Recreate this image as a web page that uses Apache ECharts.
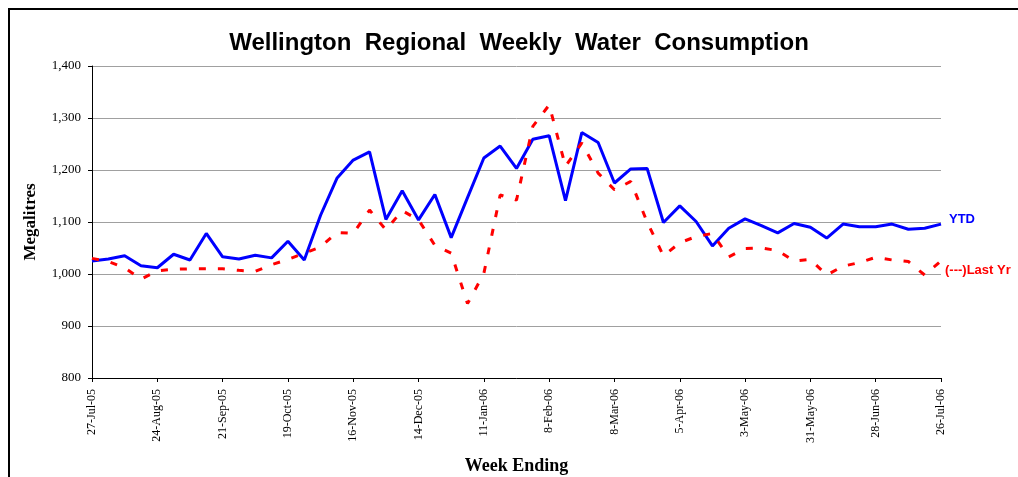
<!DOCTYPE html>
<html>
<head>
<meta charset="utf-8">
<script src="https://cdn.jsdelivr.net/npm/echarts@6/dist/echarts.min.js"></script>
<style>
html, body { margin: 0; padding: 0; background: #fff; }
#main { width: 1018px; height: 477px; }
</style>
</head>
<body>
<div id="main"></div>
<script>
var weeks = ['27-Jul-05','3-Aug-05','10-Aug-05','17-Aug-05','24-Aug-05','31-Aug-05','7-Sep-05','14-Sep-05',
	'21-Sep-05','28-Sep-05','5-Oct-05','12-Oct-05','19-Oct-05','26-Oct-05','2-Nov-05','9-Nov-05',
	'16-Nov-05','23-Nov-05','30-Nov-05','7-Dec-05','14-Dec-05','21-Dec-05','28-Dec-05','4-Jan-06',
	'11-Jan-06','18-Jan-06','25-Jan-06','1-Feb-06','8-Feb-06','15-Feb-06','22-Feb-06','1-Mar-06',
	'8-Mar-06','15-Mar-06','22-Mar-06','29-Mar-06','5-Apr-06','12-Apr-06','19-Apr-06','26-Apr-06',
	'3-May-06','10-May-06','17-May-06','24-May-06','31-May-06','7-Jun-06','14-Jun-06','21-Jun-06',
	'28-Jun-06','5-Jul-06','12-Jul-06','19-Jul-06','26-Jul-06'];

var ytd = [1025,1029,1035,1016,1012,1038,1027,1078,1033,1029,1036,1031,1063,1027,1113,1184,
	1219,1235,1105,1160,1104,1153,1070,1147,1223,1246,1203,1259,1266,1141,1272,1253,
	1175,1202,1203,1099,1131,1101,1054,1088,1106,1093,1079,1097,1090,1069,1096,1091,
	1091,1096,1086,1088,1096];

var lastYr = [1030,1024,1012,990,1006,1009,1010,1010,1010,1007,1005,1018,1028,1040,1052,1080,
	1078,1123,1085,1122,1104,1055,1040,943,1001,1152,1142,1284,1325,1207,1252,1194,
	1162,1178,1100,1035,1060,1072,1078,1033,1049,1050,1045,1025,1028,998,1015,1022,
	1032,1027,1024,998,1025];

var myChart = echarts.init(document.getElementById('main'));

var option = {
	backgroundColor: '#fff',
	animation: false,
	title: {
		// wider word gaps, like the original
		text: 'Wellington  Regional  Weekly  Water  Consumption',
		left: 514,
		top: 26,
		textAlign: 'center',
		textStyle: {
			fontFamily: 'Liberation Sans',
			fontWeight: 'bold',
			fontSize: 24,
			color: '#000'
		}
	},
	graphic: [{
		type: 'polyline',
		shape: { points: [[9, 477], [9, 9], [1018, 9]] },
		style: { stroke: '#000', lineWidth: 2, fill: null }
	}],
	grid: { left: 92, right: 77, top: 66, bottom: 99, outerBoundsMode: 'none' },
	xAxis: {
		type: 'category',
		data: weeks,
		boundaryGap: false,
		name: 'Week Ending',
		nameLocation: 'middle',
		nameGap: 79,
		nameTextStyle: {
			fontFamily: 'Liberation Serif',
			fontWeight: 'bold',
			fontSize: 18,
			color: '#000'
		},
		axisLine: { lineStyle: { color: '#000', width: 1 } },
		axisTick: { interval: 3, length: 4, lineStyle: { color: '#000' } },
		axisLabel: {
			interval: 3,
			rotate: 90,
			margin: 11,
			fontFamily: 'Liberation Serif',
			fontSize: 12,
			color: '#000'
		},
		splitLine: { show: false }
	},
	yAxis: {
		type: 'value',
		min: 800,
		max: 1400,
		interval: 100,
		name: 'Megalitres',
		nameLocation: 'middle',
		nameGap: 53,
		nameRotate: 90,
		nameTextStyle: {
			fontFamily: 'Liberation Serif',
			fontWeight: 'bold',
			fontSize: 17,
			color: '#000'
		},
		axisLine: { show: true, lineStyle: { color: '#000', width: 1 } },
		axisTick: { show: true, length: 4, lineStyle: { color: '#000' } },
		axisLabel: {
			margin: 11,
			fontFamily: 'Liberation Serif',
			fontSize: 13,
			color: '#000',
			formatter: function (v) { return v.toLocaleString('en-US'); }
		},
		splitLine: { lineStyle: { color: '#a0a0a0', width: 1 } }
	},
	series: [{
		name: 'YTD',
		type: 'line',
		data: ytd,
		symbol: 'none',
		lineStyle: { color: '#0000ff', width: 3 },
		endLabel: {
			show: true,
			formatter: 'YTD',
			distance: 8,
			offset: [0, -5],
			fontFamily: 'Liberation Sans',
			fontWeight: 'bold',
			fontSize: 13,
			color: '#0000ff'
		}
	}, {
		name: 'Last Yr',
		type: 'line',
		data: lastYr,
		symbol: 'none',
		lineStyle: { color: '#ff0000', width: 3, type: [7, 12] },
		endLabel: {
			show: true,
			formatter: '(---)Last Yr',
			distance: 4,
			offset: [0, 9],
			fontFamily: 'Liberation Sans',
			fontWeight: 'bold',
			fontSize: 13,
			color: '#ff0000'
		}
	}]
};
myChart.setOption(option);
</script>
</body>
</html>
